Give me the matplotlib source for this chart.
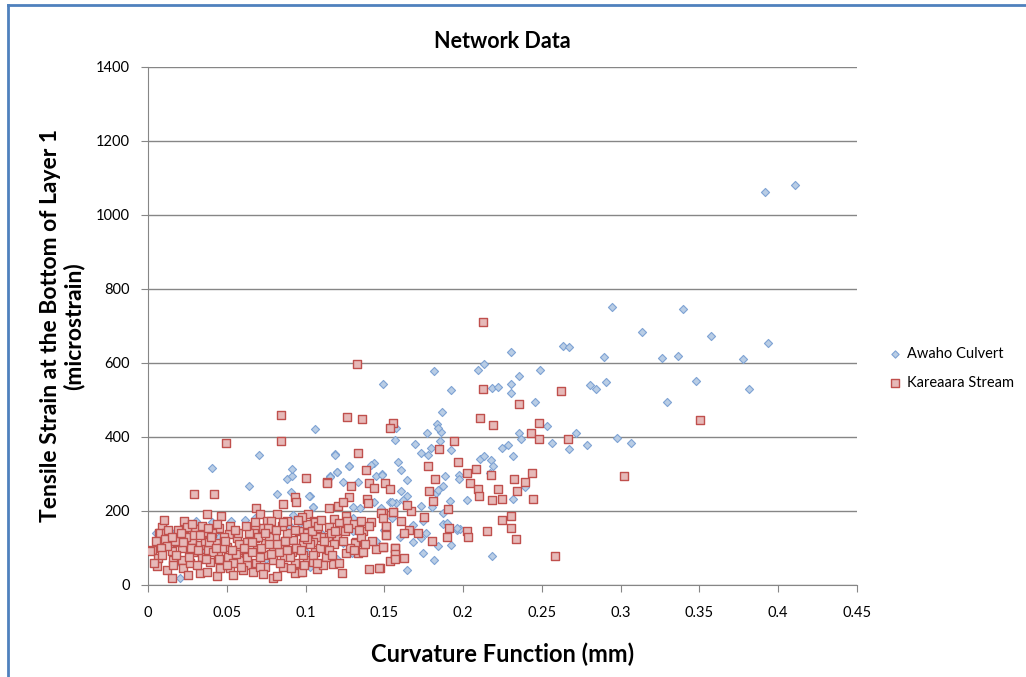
import matplotlib
matplotlib.use('Agg')
from matplotlib import pyplot as plt
from matplotlib.lines import Line2D

plt.rcParams['font.family'] = ['Lato', 'DejaVu Sans']

# Awaho Culvert (curvature mm, strain microstrain)
awaho_x = [0.3916, 0.4106, 0.3393, 0.3133, 0.3575, 0.3933, 0.3264, 0.3364, 0.3774, 0.3476,
           0.3814, 0.3294, 0.3066, 0.2943, 0.2632, 0.2674, 0.2894, 0.2306, 0.2135, 0.2094,
           0.1813, 0.2486, 0.1493, 0.2355, 0.2306, 0.2183, 0.2223, 0.2306, 0.2805, 0.2845,
           0.2905, 0.1923, 0.2458, 0.1868, 0.2534, 0.1574, 0.1832, 0.1857, 0.1768, 0.1838,
           0.1566, 0.1695, 0.1855, 0.1794, 0.1735, 0.1777, 0.1923, 0.2355, 0.2365, 0.2564,
           0.2674, 0.2714, 0.2784, 0.2974, 0.2249, 0.2282, 0.2314, 0.1584, 0.1607, 0.2107,
           0.2133, 0.2177, 0.2192, 0.2169, 0.1974, 0.1976, 0.1885, 0.1646, 0.1483, 0.2393,
           0.1826, 0.1874, 0.1606, 0.1646, 0.2026, 0.2314, 0.1914, 0.1538, 0.1574, 0.1925,
           0.1839, 0.1963, 0.1983, 0.2185, 0.1743, 0.1815, 0.1646, 0.1684, 0.1735, 0.1767,
           0.1874, 0.1743, 0.1733, 0.1874, 0.1684, 0.1621, 0.1060, 0.1185, 0.1273, 0.1434,
           0.1415, 0.1202, 0.1155, 0.1235, 0.1333, 0.1449, 0.1485, 0.1026, 0.1045, 0.1303,
           0.1345, 0.1434, 0.1303, 0.1240, 0.1293, 0.1900, 0.1959, 0.1840, 0.1803, 0.1479,
           0.1547, 0.0705, 0.0404, 0.1187, 0.0643, 0.0884, 0.0912, 0.0916, 0.0906, 0.1155,
           0.1198, 0.1276, 0.0817, 0.1024, 0.1045, 0.0918, 0.0305, 0.0404, 0.0525, 0.0618,
           0.0679, 0.0097, 0.0140, 0.0087, 0.0150, 0.0245, 0.0203, 0.1028, 0.0965,
           0.020, 0.035, 0.050, 0.060, 0.075, 0.085, 0.100, 0.110, 0.120, 0.045,
           0.065, 0.090, 0.130, 0.140, 0.150, 0.155, 0.160, 0.145, 0.005, 0.012]
awaho_y = [1062, 1081, 745, 684, 674, 655, 614, 620, 612, 552,
           530, 495, 383, 752, 646, 642, 615, 631, 597, 580,
           578, 580, 542, 565, 542, 532, 535, 518, 540, 530,
           548, 526, 495, 468, 431, 424, 435, 414, 412, 423,
           391, 382, 389, 369, 356, 351, 365, 412, 395, 385,
           368, 412, 378, 396, 370, 378, 349, 332, 312, 341,
           348, 337, 322, 304, 298, 286, 295, 283, 299, 266,
           249, 268, 255, 241, 231, 232, 226, 224, 221, 108,
           105, 149, 152, 78, 86, 68, 41, 117, 126, 141,
           165, 174, 213, 195, 163, 230, 421, 353, 322, 331,
           324, 306, 295, 278, 279, 295, 297, 241, 211, 210,
           209, 224, 147, 113, 87, 167, 153, 257, 210, 207,
           225, 352, 316, 352, 268, 287, 295, 314, 252, 293,
           306, 322, 246, 241, 210, 190, 172, 170, 172, 176,
           182, 160, 145, 104, 108, 108, 18, 50, 168,
           60, 90, 60, 100, 70, 120, 90, 140, 70, 130,
           150, 160, 180, 160, 150, 180, 130, 120, 140, 125]

# Kareaara Stream
kare_x = [0.2124, 0.1326, 0.2124, 0.2619, 0.2355, 0.2107, 0.2192, 0.2484, 0.1553, 0.1536,
          0.1942, 0.1845, 0.2433, 0.2479, 0.2664, 0.3503, 0.3023, 0.1775, 0.1965, 0.2023,
          0.2082, 0.2175, 0.1824, 0.1502, 0.1536, 0.2042, 0.2097, 0.2223, 0.2323, 0.2394,
          0.2435, 0.2343, 0.1783, 0.1807, 0.2103, 0.2185, 0.2247, 0.2441, 0.1906, 0.1752,
          0.1671, 0.1646, 0.1555, 0.1604, 0.1654, 0.1714, 0.1805, 0.1898, 0.1908, 0.2025,
          0.2032, 0.2154, 0.2247, 0.2306, 0.2306, 0.2334, 0.2583, 0.1623, 0.1568, 0.1568,
          0.1536, 0.1472, 0.1493, 0.1513, 0.1509, 0.1489, 0.1627,
          0.1265, 0.1356, 0.1335, 0.1381, 0.1134, 0.1288, 0.1405, 0.1434, 0.1003, 0.1276,
          0.1388, 0.1395, 0.1151, 0.1204, 0.1235, 0.1018, 0.1056, 0.1254, 0.1482, 0.1493,
          0.1557, 0.1182, 0.1212, 0.1265, 0.1309, 0.1351, 0.1074, 0.1149, 0.1415, 0.1511,
          0.1366, 0.1511, 0.1197, 0.1142, 0.1099, 0.1066, 0.1007, 0.1320, 0.1445, 0.1494,
          0.1568, 0.1570, 0.1570, 0.1464, 0.1405, 0.1254, 0.1233, 0.1174, 0.1070, 0.1335,
          0.1367, 0.0965, 0.1007, 0.1314,
          0.0846, 0.0846, 0.0495, 0.1136, 0.0292, 0.0421, 0.0935, 0.0937, 0.0855, 0.0685,
          0.0374, 0.0465, 0.0817, 0.0227, 0.0711, 0.0267, 0.0277, 0.0068, 0.0108, 0.0089,
          0.0025, 0.0300, 0.0366, 0.0446, 0.0512,
          0.0884, 0.1007, 0.1060, 0.0753, 0.0779, 0.0732, 0.0679, 0.0673, 0.0453, 0.0404,
          0.0357, 0.0245, 0.0076, 0.0114, 0.0108, 0.0065, 0.0059, 0.0150, 0.0156, 0.0119,
          0.0152, 0.0214, 0.0214, 0.0224, 0.0277, 0.0288, 0.0267, 0.0256, 0.0330, 0.0341,
          0.0330, 0.0383, 0.0394, 0.0373, 0.0436, 0.0432, 0.0446, 0.0457, 0.0503, 0.0510,
          0.0520, 0.0563, 0.0573, 0.0584, 0.0538, 0.0626, 0.0622, 0.0630, 0.0679, 0.0690,
          0.0686, 0.0669, 0.0743, 0.0736, 0.0743, 0.0806, 0.0795, 0.0791, 0.0791, 0.0821,
          0.0859, 0.0863, 0.0859, 0.0922, 0.0912, 0.0933, 0.0933, 0.0981, 0.0986, 0.0975,
          0.1049, 0.1060, 0.1049, 0.0186, 0.0010,
          0.005, 0.012, 0.018, 0.024, 0.031, 0.036, 0.041, 0.048, 0.054, 0.058,
          0.064, 0.071, 0.077, 0.083, 0.088, 0.094, 0.099, 0.104, 0.109, 0.113,
          0.118, 0.122, 0.128, 0.135, 0.142, 0.111, 0.116, 0.008, 0.016, 0.027,
          0.039, 0.047, 0.056, 0.061, 0.072, 0.082, 0.096, 0.103, 0.125, 0.140,
          0.060, 0.070, 0.090, 0.045, 0.034, 0.019, 0.052, 0.076, 0.085, 0.098,
          0.004, 0.009, 0.013, 0.017, 0.021, 0.026, 0.029, 0.032, 0.037, 0.040,
          0.043, 0.046, 0.049, 0.053, 0.057, 0.059, 0.063, 0.066, 0.068, 0.071,
          0.074, 0.078, 0.081, 0.084, 0.087, 0.091, 0.093, 0.097, 0.101, 0.105,
          0.108, 0.112, 0.115, 0.119, 0.121, 0.124, 0.127, 0.131, 0.134, 0.138,
          0.010, 0.022, 0.033, 0.044, 0.055, 0.066, 0.077, 0.088, 0.099, 0.110,
          0.015, 0.028, 0.038, 0.050, 0.062, 0.073, 0.086, 0.095, 0.107, 0.117]
kare_y = [712, 598, 531, 525, 490, 452, 433, 439, 439, 423,
          390, 368, 410, 395, 395, 446, 295, 322, 332, 304,
          313, 297, 286, 275, 259, 275, 260, 260, 286, 278,
          303, 255, 255, 226, 241, 229, 232, 232, 205, 185,
          199, 215, 197, 174, 149, 141, 120, 129, 155, 145,
          131, 147, 176, 187, 154, 125, 79, 72, 99, 81,
          66, 47, 104, 135, 158, 194, 141,
          455, 448, 356, 312, 278, 268, 275, 263, 288, 239,
          232, 222, 207, 214, 225, 193, 174, 186, 194, 180,
          198, 178, 167, 174, 165, 174, 154, 158, 170, 159,
          145, 135, 126, 131, 131, 131, 140, 117, 97, 104,
          101, 84, 70, 47, 44, 86, 33, 57, 42, 86,
          88, 34, 68, 113,
          459, 390, 385, 276, 245, 245, 237, 224, 219, 209,
          193, 187, 191, 172, 193, 154, 138, 141, 135, 158,
          95, 151, 140, 151, 138,
          174, 165, 171, 174, 174, 153, 158, 141, 153, 141,
          142, 158, 141, 140, 124, 72, 51, 93, 68, 41,
          18, 99, 68, 45, 122, 90, 59, 27, 108, 77,
          32, 95, 63, 36, 23, 113, 81, 50, 104, 77,
          45, 126, 95, 68, 27, 117, 86, 54, 126, 95,
          59, 36, 113, 81, 50, 131, 99, 68, 18, 23,
          108, 77, 50, 122, 90, 59, 32, 113, 81, 36,
          117, 90, 63, 117, 92,
          120, 105, 80, 130, 55, 120, 90, 130, 60, 110,
          140, 75, 130, 90, 140, 100, 55, 145, 100, 75,
          110, 150, 100, 130, 120, 55, 140, 100, 55, 100,
          115, 100, 85, 100, 100, 110, 145, 110, 145, 160,
          40, 130, 75, 70, 160, 150, 160, 155, 160, 185,
          60, 80, 150, 120, 140, 75, 135, 95, 70, 130,
          100, 45, 120, 95, 140, 50, 75, 115, 170, 50,
          140, 85, 150, 60, 120, 45, 150, 95, 125, 80,
          160, 120, 95, 145, 60, 120, 155, 95, 150, 110,
          175, 115, 135, 165, 150, 90, 110, 95, 130, 175,
          130, 165, 155, 55, 160, 30, 170, 175, 60, 80]

y_ticks = [0, 200, 400, 600, 800, 1000, 1200, 1400]
x_ticks = [0, 0.05, 0.1, 0.15, 0.2, 0.25, 0.3, 0.35, 0.4, 0.45]
x_ticklabels = ['0', '0.05', '0.1', '0.15', '0.2', '0.25', '0.3', '0.35', '0.4', '0.45']

fig = plt.figure(figsize=(10.26, 6.77), dpi=100)
ax = fig.add_axes([148 / 1026, 92 / 677, 709 / 1026, 518 / 677])

ax.scatter(awaho_x, awaho_y, marker='D', s=17, facecolor='#B9CDE5', edgecolor='#7EA3D4',
           linewidth=0.8, label='Awaho Culvert', zorder=3)
ax.scatter(kare_x, kare_y, marker='s', s=40, facecolor='#E6B9B8', edgecolor='#C0504D',
           linewidth=1.0, label='Kareaara Stream', zorder=4)

ax.set_xlim(0, 0.45)
ax.set_ylim(0, 1400)
ax.set_xticks(x_ticks)
ax.set_xticklabels(x_ticklabels)
ax.set_yticks(y_ticks)
ax.yaxis.grid(True, color='#868686', linewidth=1.0)
ax.set_axisbelow(True)
for s in ['top', 'right']:
    ax.spines[s].set_visible(False)
for s in ['left', 'bottom']:
    ax.spines[s].set_color('#868686')
ax.tick_params(axis='both', colors='#868686', labelcolor='black', labelsize=10.5, length=5)
ax.tick_params(axis='x', pad=10)
ax.tick_params(axis='y', pad=8)

ax.set_title('Network Data', fontsize=15.5, fontweight='bold', pad=14)
ax.set_xlabel('Curvature Function (mm)', fontsize=17, fontweight='bold', labelpad=16)
ax.set_ylabel('Tensile Strain at the Bottom of Layer 1\n(microstrain)', fontsize=16.5,
              fontweight='bold', labelpad=8, linespacing=1.1)

leg = ax.legend(loc='center left', bbox_to_anchor=(1.025, 0.418), frameon=False, fontsize=10.5,
                handletextpad=0.3, labelspacing=1.0, handlelength=1.0, markerscale=0.9)

# outer chart border (blue)
fig.add_artist(Line2D([8 / 1026, 1.0], [1 - 5 / 677, 1 - 5 / 677], color='#4F81BD', linewidth=2))
fig.add_artist(Line2D([8 / 1026, 8 / 1026], [0, 1 - 5 / 677], color='#4F81BD', linewidth=2))

plt.savefig('out.png', dpi=100)
